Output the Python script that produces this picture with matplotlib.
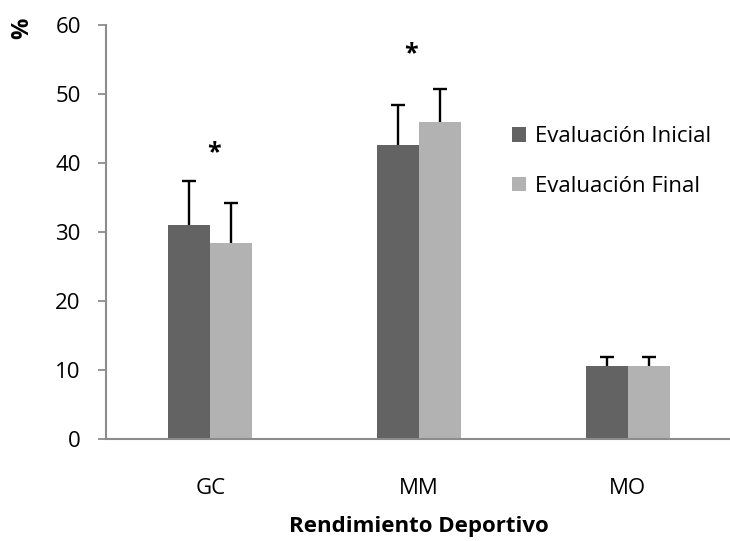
import numpy as np
import matplotlib.pyplot as plt

plt.rcParams['font.family'] = ['Open Sans', 'DejaVu Sans']

# Data
categorias = ['GC', 'MM', 'MO']
inicial = [31.0, 42.6, 10.6]
final = [28.4, 45.9, 10.6]
err_inicial = [6.4, 5.8, 1.3]
err_final = [5.8, 4.8, 1.3]
series = ['Evaluación Inicial', 'Evaluación Final']
colores = ['#636363', '#b2b2b2']
gris = '#8c8c8c'
fs = 16

fig = plt.figure(figsize=(7.3, 5.41), dpi=100)
ax = fig.add_axes([0.145, 0.1885, 0.858, 0.7655])

x = np.arange(len(categorias))
w = 0.2
ax.bar(x - w / 2, inicial, w, color=colores[0], label=series[0])
ax.bar(x + w / 2, final, w, color=colores[1], label=series[1])

# upper error bars only (hide the lower caps)
for pos, vals, errs in [(x - w / 2, inicial, err_inicial), (x + w / 2, final, err_final)]:
    eb = ax.errorbar(pos, vals, yerr=[np.zeros(3), errs], fmt='none',
                     ecolor='black', elinewidth=1.7, capsize=5, capthick=1.7)
    eb[1][0].set_visible(False)

# significance marks
ax.text(0.02, 41.5, '*', ha='center', va='center', fontsize=18, fontweight='bold')
ax.text(0.96, 55.8, '*', ha='center', va='center', fontsize=18, fontweight='bold')

ax.set_xlim(-0.5, 2.5)
ax.set_ylim(0, 60)
ax.set_yticks(range(0, 61, 10))
ax.set_xticks(x)
ax.set_xticklabels(categorias)

for s in ['top', 'right']:
    ax.spines[s].set_visible(False)
ax.spines['left'].set_color(gris)
ax.spines['bottom'].set_color(gris)
ax.spines['left'].set_linewidth(1.5)
ax.spines['bottom'].set_linewidth(1.5)
ax.tick_params(axis='y', length=6, width=1.3, color=gris, labelsize=fs, pad=12)
ax.tick_params(axis='x', length=0, labelsize=fs, pad=28)

ax.set_xlabel('Rendimiento Deportivo', fontsize=fs, fontweight='bold', labelpad=12)
fig.text(0.031, 0.948, '%', rotation=90, ha='center', va='center',
         fontsize=17, fontweight='bold')

ax.legend(loc='upper left', bbox_to_anchor=(0.635, 0.777), frameon=False,
          fontsize=fs, handlelength=0.62, handleheight=0.62,
          handletextpad=0.4, labelspacing=1.3, borderaxespad=0)

fig.savefig('out.png', dpi=100)
